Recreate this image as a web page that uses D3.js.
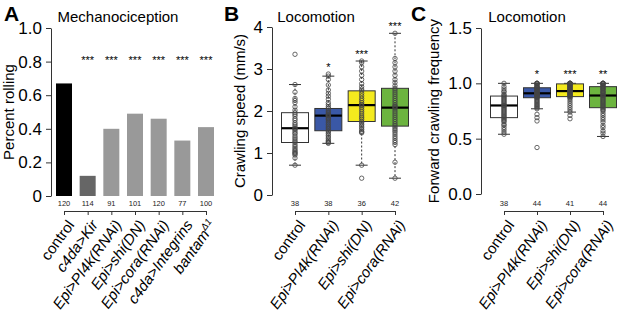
<!DOCTYPE html>
<html lang="en">
<head>
<meta charset="UTF-8" />
<title>Mechanociception and locomotion</title>
<script src="https://d3js.org/d3.v7.min.js"></script>
<style>
  body { margin: 0; background: #fff; }
  svg { display: block; font-family: "Liberation Sans", Arial, sans-serif; }
</style>
</head>
<body>
<svg width="617" height="316"></svg>
<script>
// ---- Panel A: mechanociception (fraction rolling) ----
const rollGenotypes = ["control", "c4da>Kir", "Epi>PI4k(RNAi)", "Epi>shi(DN)", "Epi>cora(RNAi)", "c4da>Integrins", "bantam"];
const rollFraction = [0.67, 0.12, 0.40, 0.49, 0.46, 0.33, 0.41];
const rollN = [120, 114, 91, 101, 120, 77, 100];
const rollStars = ["", "***", "***", "***", "***", "***", "***"];
const rollTicks = [0, 0.2, 0.4, 0.6, 0.8, 1.0];

// ---- Panels B and C: locomotion ----
const locoGenotypes = ["control", "Epi>PI4k(RNAi)", "Epi>shi(DN)", "Epi>cora(RNAi)"];

const speedN = [38, 38, 36, 42];
const speedStars = ["", "*", "***", "***"];
const speedQ1 = [1.25, 1.53, 1.75, 1.64];
const speedMedian = [1.59, 1.89, 2.14, 2.08];
const speedQ3 = [1.96, 2.06, 2.48, 2.54];
const speedLow = [0.71, 1.23, 0.71, 0.40];
const speedHigh = [2.63, 2.83, 3.19, 3.85];
const speedTicks = [0, 1, 2, 3, 4];
const speedPoints = [
  [3.35, 2.63, 2.45, 2.3, 2.25, 2.2, 2.1, 2.02, 1.96, 1.92, 1.88, 1.82, 1.78, 1.72, 1.68, 1.64, 1.6, 1.58, 1.56, 1.52,
   1.48, 1.45, 1.4, 1.36, 1.32, 1.28, 1.25, 1.2, 1.16, 1.12, 1.08, 1.05, 1.02, 1.0, 0.98, 0.95, 0.88, 0.71],
  [2.88, 2.83, 2.75, 2.62, 2.5, 2.42, 2.35, 2.28, 2.2, 2.15, 2.1, 2.06, 2.02, 1.98, 1.95, 1.92, 1.9, 1.89, 1.88, 1.85,
   1.82, 1.8, 1.76, 1.72, 1.68, 1.64, 1.6, 1.57, 1.53, 1.5, 1.46, 1.42, 1.38, 1.34, 1.3, 1.27, 1.25, 1.23],
  [3.19, 3.15, 3.05, 2.95, 2.85, 2.75, 2.65, 2.58, 2.52, 2.48, 2.42, 2.36, 2.3, 2.25, 2.2, 2.16, 2.14, 2.12, 2.08, 2.03,
   1.98, 1.93, 1.88, 1.84, 1.8, 1.75, 1.72, 1.68, 1.64, 1.6, 1.56, 1.52, 1.5, 1.48, 0.71, 0.40],
  [3.85, 3.25, 3.15, 3.05, 2.95, 2.85, 2.75, 2.68, 2.6, 2.54, 2.5, 2.45, 2.4, 2.35, 2.3, 2.25, 2.2, 2.15, 2.12, 2.1,
   2.08, 2.05, 2.0, 1.95, 1.9, 1.85, 1.8, 1.75, 1.7, 1.66, 1.62, 1.58, 1.54, 1.5, 1.45, 1.4, 1.35, 1.3, 1.25, 1.2, 0.78, 0.40]
];

const freqN = [38, 44, 41, 44];
const freqStars = ["", "*", "***", "**"];
const freqQ1 = [0.69, 0.87, 0.88, 0.78];
const freqMedian = [0.80, 0.91, 0.93, 0.89];
const freqQ3 = [0.885, 0.96, 0.995, 0.97];
const freqLow = [0.54, 0.77, 0.74, 0.52];
const freqHigh = [1.0, 1.0, 1.0, 1.0];
const freqTicks = [0, 0.5, 1.0, 1.5];
const freqPoints = [
  [1.0, 0.97, 0.95, 0.93, 0.92, 0.9, 0.89, 0.88, 0.87, 0.86, 0.85, 0.84, 0.83, 0.82, 0.81, 0.8, 0.8, 0.79, 0.78, 0.77,
   0.76, 0.75, 0.74, 0.73, 0.72, 0.71, 0.7, 0.69, 0.68, 0.67, 0.66, 0.65, 0.63, 0.62, 0.6, 0.58, 0.56, 0.54],
  [1.0, 1.0, 1.0, 1.0, 0.99, 0.98, 0.97, 0.97, 0.96, 0.96, 0.95, 0.95, 0.94, 0.94, 0.93, 0.93, 0.92, 0.92, 0.91, 0.91,
   0.91, 0.9, 0.9, 0.9, 0.89, 0.89, 0.88, 0.88, 0.87, 0.87, 0.86, 0.85, 0.84, 0.83, 0.82, 0.81, 0.8, 0.79, 0.78, 0.77,
   0.72, 0.69, 0.66, 0.42],
  [1.0, 1.0, 1.0, 1.0, 1.0, 1.0, 0.99, 0.99, 0.98, 0.98, 0.97, 0.97, 0.96, 0.96, 0.95, 0.95, 0.94, 0.94, 0.93, 0.93,
   0.93, 0.92, 0.92, 0.91, 0.91, 0.9, 0.9, 0.89, 0.89, 0.88, 0.88, 0.87, 0.86, 0.84, 0.82, 0.8, 0.78, 0.76, 0.74, 0.71, 0.68],
  [1.0, 1.0, 1.0, 1.0, 1.0, 0.99, 0.98, 0.97, 0.97, 0.96, 0.95, 0.95, 0.94, 0.93, 0.92, 0.92, 0.91, 0.9, 0.89, 0.89,
   0.88, 0.87, 0.86, 0.85, 0.84, 0.83, 0.82, 0.81, 0.8, 0.79, 0.78, 0.77, 0.76, 0.75, 0.73, 0.71, 0.69, 0.67, 0.65, 0.62,
   0.6, 0.57, 0.55, 0.52]
];

const svg = d3.select("svg");
const ink = "#333";
const locoColor = d3.scaleOrdinal().domain(locoGenotypes).range(["#ffffff", "#3a58a6", "#f4ea1e", "#6cb43f"]);
const rollColor = d3.scaleOrdinal().domain(rollGenotypes)
  .range(["#000000", "#666666", "#999999", "#999999", "#999999", "#999999", "#999999"]);

function panelLetter(x, letter) {
  svg.append("text").attr("x", x).attr("y", 21)
    .attr("font-size", 21).attr("font-weight", "bold").text(letter);
}

function title(x, txt) {
  svg.append("text").attr("x", x).attr("y", 22).attr("text-anchor", "middle")
    .attr("font-size", 15).text(txt);
}

function yAxis(y, x, ticks, fmt, label, labelX) {
  const g = svg.append("g").attr("transform", `translate(${x},0)`)
    .call(d3.axisLeft(y).tickValues(ticks).tickFormat(fmt).tickSize(5).tickSizeOuter(0).tickPadding(4));
  g.attr("font-family", null);
  g.selectAll("path, line").attr("stroke", ink);
  g.selectAll("text").attr("font-size", 17).attr("fill", "#000");
  svg.append("text")
    .attr("transform", `translate(${labelX},${(y.range()[0] + y.range()[1]) / 2}) rotate(-90)`)
    .attr("text-anchor", "middle").attr("font-size", 15).text(label);
}

function xBracket(x, nums) {
  const g = svg.append("g").attr("transform", "translate(0,211)")
    .call(d3.axisBottom(x).tickSize(4).tickSizeOuter(0).tickFormat(""));
  g.selectAll("path, line").attr("stroke", ink);
  svg.append("g").selectAll("text").data(x.domain()).join("text")
    .attr("x", d => x(d)).attr("y", 206).attr("text-anchor", "middle")
    .attr("font-size", 7.5).attr("fill", "#222")
    .text((d, i) => nums[i]);
  const labels = svg.append("g").selectAll("text").data(x.domain()).join("text")
    .attr("transform", d => `translate(${x(d) + 11},225) rotate(-54)`)
    .attr("text-anchor", "end").attr("font-size", 15)
    .attr("font-style", d => d === "control" ? "normal" : "italic");
  labels.each(function(d) {
    const t = d3.select(this);
    t.append("tspan").text(d);
    if (d === "bantam") {
      t.append("tspan").attr("font-size", 9.5).attr("dy", -6).text("\u03941");
    }
  });
}

// ---------- Panel A ----------
{
  const x = d3.scalePoint().domain(rollGenotypes).range([64, 206]);
  const y = d3.scaleLinear().domain([0, 1]).range([196, 28]);
  const barW = 16;

  panelLetter(4, "A");
  title(118, "Mechanociception");
  yAxis(y, 51, rollTicks, d => d === 0 ? "0" : d3.format(".1f")(d), "Percent rolling", 14);

  svg.append("g").selectAll("rect").data(rollGenotypes).join("rect")
    .attr("x", d => x(d) - barW / 2).attr("width", barW)
    .attr("y", (d, i) => y(rollFraction[i]))
    .attr("height", (d, i) => y(0) - y(rollFraction[i]))
    .attr("fill", d => rollColor(d));

  svg.append("g").selectAll("text").data(rollGenotypes).join("text")
    .attr("x", d => x(d)).attr("y", y(0.8) + 2).attr("text-anchor", "middle")
    .attr("font-size", 11).text((d, i) => rollStars[i]);

  xBracket(x, rollN);
}

// ---------- box panels ----------
function boxPanel(opt) {
  const x = d3.scalePoint().domain(locoGenotypes).range(opt.xRange);
  const y = d3.scaleLinear().domain(opt.yDomain).range(opt.yRange);
  const boxW = 27, capW = 12;

  panelLetter(opt.letterX, opt.letter);
  title(opt.titleX, "Locomotion");
  yAxis(y, opt.axisX, opt.ticks, opt.fmt, opt.label, opt.labelX);

  const g = svg.append("g");
  locoGenotypes.forEach((k, i) => {
    const cx = x(k);
    // whiskers
    g.append("line").attr("x1", cx).attr("x2", cx)
      .attr("y1", y(opt.high[i])).attr("y2", y(opt.q3[i]))
      .attr("stroke", ink).attr("stroke-dasharray", "2,2");
    g.append("line").attr("x1", cx).attr("x2", cx)
      .attr("y1", y(opt.q1[i])).attr("y2", y(opt.low[i]))
      .attr("stroke", ink).attr("stroke-dasharray", "2,2");
    [opt.high[i], opt.low[i]].forEach(v => {
      g.append("line").attr("x1", cx - capW / 2).attr("x2", cx + capW / 2)
        .attr("y1", y(v)).attr("y2", y(v)).attr("stroke", ink);
    });
    // box
    g.append("rect").attr("x", cx - boxW / 2).attr("width", boxW)
      .attr("y", y(opt.q3[i])).attr("height", y(opt.q1[i]) - y(opt.q3[i]))
      .attr("fill", locoColor(k)).attr("stroke", ink).attr("stroke-width", 1);
    g.append("line").attr("x1", cx - boxW / 2).attr("x2", cx + boxW / 2)
      .attr("y1", y(opt.median[i])).attr("y2", y(opt.median[i]))
      .attr("stroke", "#000").attr("stroke-width", 2.2);
    // points
    g.append("g").selectAll("circle").data(opt.points[i]).join("circle")
      .attr("cx", cx).attr("cy", v => y(v)).attr("r", 2.2)
      .attr("fill", "none").attr("stroke", "#444").attr("stroke-width", 0.8);
    // stars
    g.append("text").attr("x", cx).attr("y", y(d3.max(opt.points[i])) - opt.starGap)
      .attr("text-anchor", "middle").attr("font-size", 11).text(opt.stars[i]);
  });

  xBracket(x, opt.n);
}

boxPanel({
  letter: "B", letterX: 224, titleX: 316,
  xRange: [295, 395], yDomain: [0, 4], yRange: [195, 27],
  axisX: 272, ticks: speedTicks, fmt: d3.format("d"),
  label: "Crawling speed (mm/s)", labelX: 245,
  q1: speedQ1, median: speedMedian, q3: speedQ3, low: speedLow, high: speedHigh,
  points: speedPoints, stars: speedStars, n: speedN, starGap: 3
});

boxPanel({
  letter: "C", letterX: 411, titleX: 527,
  xRange: [504, 603], yDomain: [0, 1.5], yRange: [194, 28],
  axisX: 481, ticks: freqTicks, fmt: d3.format(".1f"),
  label: "Forward crawling frequency", labelX: 439,
  q1: freqQ1, median: freqMedian, q3: freqQ3, low: freqLow, high: freqHigh,
  points: freqPoints, stars: freqStars, n: freqN, starGap: 5
});
</script>
</body>
</html>
